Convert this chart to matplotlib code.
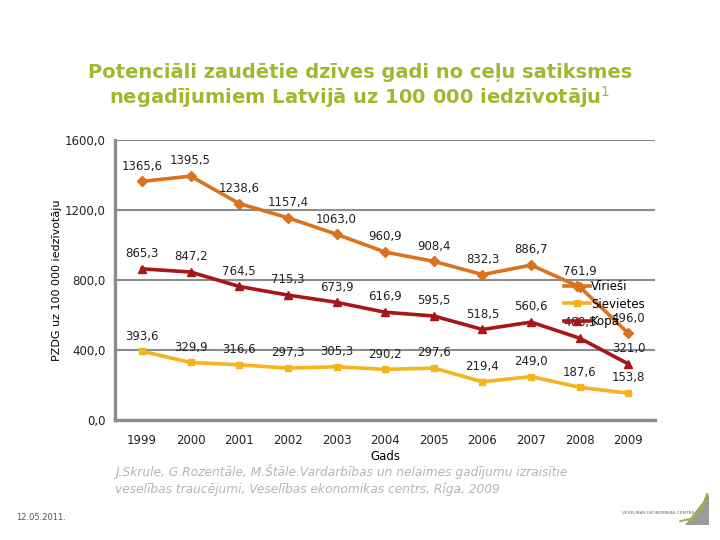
import matplotlib.pyplot as plt
from matplotlib.patches import Polygon

years = ["1999", "2000", "2001", "2002", "2003", "2004",
         "2005", "2006", "2007", "2008", "2009"]
viriesi = [1365.6, 1395.5, 1238.6, 1157.4, 1063.0, 960.9,
           908.4, 832.3, 886.7, 761.9, 496.0]
sievietes = [393.6, 329.9, 316.6, 297.3, 305.3, 290.2,
             297.6, 219.4, 249.0, 187.6, 153.8]
kopa = [865.3, 847.2, 764.5, 715.3, 673.9, 616.9,
        595.5, 518.5, 560.6, 468.5, 321.0]
y_ticks = [0, 400, 800, 1200, 1600]

GRID = "#8c8c8c"
TITLE_GREEN = "#9dba2e"
series = [
    ("Vīrieši", viriesi, "#d9731f", "D", 5),
    ("Sievietes", sievietes, "#f5b31e", "s", 5),
    ("Kopā", kopa, "#a81616", "^", 6),
]


def fmt(v):
    return f"{v:.1f}".replace(".", ",")


fig = plt.figure(figsize=(7.2, 5.4), dpi=100)
ax = fig.add_axes([0.16, 0.222, 0.75, 0.518])

x = list(range(len(years)))
for name, vals, color, marker, ms in series:
    ax.plot(x, vals, color=color, lw=2.6, marker=marker, ms=ms,
            label=name, zorder=3)
    for xi, v in zip(x, vals):
        ax.annotate(fmt(v), (xi, v), xytext=(0, 11), textcoords="offset points",
                    ha="center", va="center", fontsize=8.5, color="#222222",
                    zorder=4)

ax.set_xlim(-0.55, len(years) - 0.45)
ax.set_ylim(0, 1600)
ax.set_yticks(y_ticks)
ax.set_yticklabels([fmt(t) for t in y_ticks], fontsize=8.5)
ax.set_xticks(x)
ax.set_xticklabels(years, fontsize=8.5)
ax.tick_params(length=0, pad=10, colors="#222222")
ax.tick_params(axis="y", pad=7)
ax.grid(axis="y", color=GRID, lw=1.5)
ax.set_axisbelow(True)
for s in ["top", "right"]:
    ax.spines[s].set_visible(False)
for s in ["left", "bottom"]:
    ax.spines[s].set_color(GRID)
    ax.spines[s].set_linewidth(2.4)
ax.set_xlabel("Gads", fontsize=8.5, labelpad=2)
ax.set_ylabel("PZDG uz 100 000 iedzīvotāju", fontsize=8, labelpad=2)

leg = ax.legend(loc="center left", bbox_to_anchor=(0.82, 0.415), frameon=False,
                fontsize=8.5, handlelength=2.2, handletextpad=0.1,
                labelspacing=0.35, borderpad=0)
leg.set_zorder(5)

fig.text(0.5, 0.84, "Potenciāli zaudētie dzīves gadi no ceļu satiksmes\n"
         "negadījumiem Latvijā uz 100 000 iedzīvotāju$^1$",
         ha="center", va="center", fontsize=14, fontweight="bold",
         color=TITLE_GREEN, linespacing=1.1)

fig.text(0.16, 0.112, "J.Skrule, G.Rozentāle, M.Štāle.Vardarbības un nelaimes gadījumu izraisītie\n"
         "veselības traucējumi, Veselības ekonomikas centrs, Rīga, 2009",
         ha="left", va="center", fontsize=8.8, style="italic", color="#b5b5b5",
         linespacing=1.4)
fig.text(0.022, 0.042, "12.05.2011.", ha="left", va="center", fontsize=6,
         color="#555555")
fig.text(0.965, 0.05, "VESELĪBAS EKONOMIKAS CENTRS", ha="right", va="center",
         fontsize=3.2, color="#666666")
fig.add_artist(Polygon([[0.952, 0.028], [0.985, 0.028], [0.985, 0.085]],
                       closed=True, transform=fig.transFigure,
                       facecolor="#9a9a9a", edgecolor="none"))
fig.add_artist(plt.Line2D([0.945, 0.962, 0.975, 0.982], [0.035, 0.04, 0.06, 0.085],
                          transform=fig.transFigure, color="#9dba2e", lw=1.5))

fig.savefig("out.png", dpi=100)
